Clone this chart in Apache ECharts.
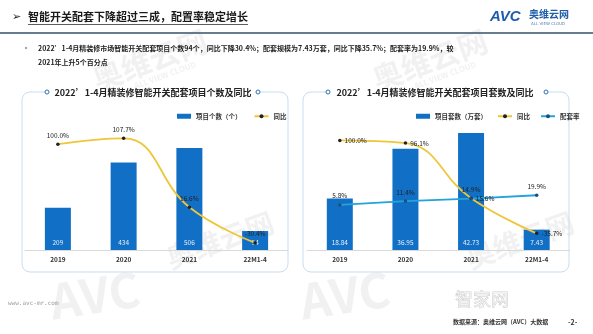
<!DOCTYPE html>
<html><head><meta charset="utf-8">
<script src="https://cdn.jsdelivr.net/npm/echarts@6/dist/echarts.min.js"></script>
<style>html,body{margin:0;padding:0;background:#fff}#c{width:593px;height:334px}</style>
</head><body><div id="c"></div>
<script>
const categories = ['2019', '2020', '2021', '22M1-4'];
const countVals = [209, 434, 506, 94];
const countYoY = [100.0, 107.7, 16.6, -30.4];
const setVals = [18.84, 36.95, 42.73, 7.43];
const setYoY = [100.0, 96.1, 15.6, -35.7];
const setRate = [5.8, 11.4, 14.9, 19.9];

const FONT = 'Noto Sans CJK SC';
const BAR = '#1170C6', YEL = '#EEC63A', CYAN = '#22A3DC';
const pct = p => p.value.toFixed(1) + '%';

function panel(x, w, gapL, gapR, title, cx) {
  return [
    {type:'rect', shape:{x:x, y:92, width:w, height:180, r:8}, style:{fill:'none', stroke:'#C9DDF0', lineWidth:1}},
    {type:'rect', shape:{x:gapL, y:88, width:gapR-gapL, height:8}, style:{fill:'#fff'}},
    {type:'circle', shape:{cx:gapL-2, cy:92, r:2}, style:{fill:'#fff', stroke:'#2E75B6', lineWidth:1}},
    {type:'circle', shape:{cx:gapR+2, cy:92, r:2}, style:{fill:'#fff', stroke:'#2E75B6', lineWidth:1}},
    {type:'text', x:cx, y:93, style:{text:title, font:'bold 9px "'+FONT+'"', fill:'#222', textAlign:'center', textVerticalAlign:'middle'}}
  ];
}
function wm(x, y, rot, text, size) {
  return {type:'text', x:x, y:y, rotation:rot, style:{text:text, font:'bold '+size+'px "'+FONT+'"', fill:'rgba(190,190,190,0.22)', textAlign:'center', textVerticalAlign:'middle'}};
}

const chart = echarts.init(document.getElementById('c'));
chart.setOption({
  backgroundColor:'#fff',
  animation:false,
  textStyle:{fontFamily:FONT},
  graphic:{elements:[
    wm(150, 60, 0.35, '奥维云网', 30), wm(165, 75, 0.35, 'ALL VIEW CLOUD', 8),
    wm(430, 60, 0.35, '奥维云网', 30), wm(445, 75, 0.35, 'ALL VIEW CLOUD', 8),
    wm(95, 295, 0.15, 'AVC', 48), wm(345, 295, 0.15, 'AVC', 48),
    wm(220, 240, 0.35, '奥维云网', 28), wm(520, 240, 0.35, '奥维云网', 28),
    {type:'text', x:12, y:17, style:{text:'➢', font:'11px "DejaVu Sans"', fill:'#222', textVerticalAlign:'middle'}},
    {type:'text', x:28, y:17, style:{text:'智能开关配套下降超过三成，配置率稳定增长', font:'bold 11px "'+FONT+'"', fill:'#1a1a1a', textVerticalAlign:'middle'}},
    {type:'line', shape:{x1:28, y1:24.5, x2:248, y2:24.5}, style:{stroke:'#333', lineWidth:0.8}},
    {type:'line', shape:{x1:0, y1:33, x2:593, y2:33}, style:{stroke:'#34506E', lineWidth:1.5}},
    {type:'text', x:490, y:17, style:{text:'AVC', font:'italic bold 15px "Liberation Sans"', fill:'#1E5EA8', textVerticalAlign:'middle'}},
    {type:'text', x:529, y:14, style:{text:'奥维云网', font:'bold 10px "'+FONT+'"', fill:'#1E5EA8', textVerticalAlign:'middle'}},
    {type:'text', x:531, y:24, style:{text:'ALL VIEW CLOUD', font:'4px "DejaVu Sans"', fill:'#5A7FB0', textVerticalAlign:'middle'}},
    {type:'circle', shape:{cx:26, cy:48, r:1.2}, style:{fill:'#9AA8B8'}},
    {type:'text', x:38, y:48, style:{text:'2022’1-4月精装修市场智能开关配套项目个数94个，同比下降30.4%；配套规模为7.43万套，同比下降35.7%；配套率为19.9%，较', font:'bold 7px "'+FONT+'"', fill:'#222', textVerticalAlign:'middle'}},
    {type:'text', x:38, y:62, style:{text:'2021年上升5个百分点', font:'bold 7px "'+FONT+'"', fill:'#222', textVerticalAlign:'middle'}},
    ...panel(22, 266, 49, 256, '2022’1-4月精装修智能开关配套项目个数及同比', 153),
    ...panel(303, 266, 330, 544, '2022’1-4月精装修智能开关配套项目套数及同比', 435),
    {type:'text', x:8, y:303, style:{text:'www.avc-mr.com', font:'6px "DejaVu Sans Mono"', fill:'#999', textVerticalAlign:'middle'}},
    {type:'text', x:455, y:299, style:{text:'智家网', font:'18px "'+FONT+'"', fill:'rgba(0,0,0,0)', stroke:'#D0D0D0', lineWidth:0.6, textVerticalAlign:'middle'}},
    {type:'text', x:453, y:322, style:{text:'数据来源：奥维云网（AVC）大数据', font:'bold 6px "'+FONT+'"', fill:'#333', textVerticalAlign:'middle'}},
    {type:'text', x:568, y:322, style:{text:'-2-', font:'bold 7px "'+FONT+'"', fill:'#333', textVerticalAlign:'middle'}}
  ]},
  legend:[
    {left:172, top:108, itemWidth:14, itemHeight:5, itemGap:12,
     textStyle:{fontSize:6.5, fontWeight:'bold', color:'#333', fontFamily:FONT},
     data:[{name:'项目个数（个）', icon:'rect'}, {name:'同比'}]},
    {left:411, top:108, itemWidth:14, itemHeight:5, itemGap:10,
     textStyle:{fontSize:6.5, fontWeight:'bold', color:'#333', fontFamily:FONT},
     data:[{name:'项目套数（万套）', icon:'rect'}, {name:'同比'}, {name:'配套率'}]}
  ],
  grid:[
    {left:25, right:305, top:129, bottom:84},
    {left:307, right:23.5, top:113, bottom:84}
  ],
  xAxis:[0,1].map(i => ({type:'category', gridIndex:i, data:categories,
    axisLine:{lineStyle:{color:'#D9D9D9'}}, axisTick:{show:false},
    axisLabel:{fontSize:6.5, fontWeight:'bold', color:'#333', margin:6}})),
  yAxis:[
    {type:'value', gridIndex:0, min:0, max:600, show:false, splitLine:{show:false}},
    {type:'value', gridIndex:0, min:-40, max:120, show:false, splitLine:{show:false}},
    {type:'value', gridIndex:1, min:0, max:50, show:false, splitLine:{show:false}},
    {type:'value', gridIndex:1, min:-60, max:140, show:false, splitLine:{show:false}}
  ],
  series:[
    {name:'项目个数（个）', type:'bar', xAxisIndex:0, yAxisIndex:0, data:countVals, barWidth:26,
     itemStyle:{color:BAR}, label:{show:true, position:'insideBottom', distance:4, color:'#E8EEF6', fontSize:6.5}},
    {name:'同比', type:'line', xAxisIndex:0, yAxisIndex:1, data:countYoY, smooth:0.45,
     symbol:'circle', symbolSize:3.5, lineStyle:{color:YEL, width:1.8}, itemStyle:{color:'#222'},
     label:{show:true, position:'top', distance:4, fontSize:6.5, color:'#222', formatter:pct}},
    {name:'项目套数（万套）', type:'bar', xAxisIndex:1, yAxisIndex:2, data:setVals, barWidth:26,
     itemStyle:{color:BAR}, label:{show:true, position:'insideBottom', distance:4, color:'#E8EEF6', fontSize:6.5}},
    {name:'同比', type:'line', xAxisIndex:1, yAxisIndex:3, data:setYoY, smooth:0.45,
     symbol:'circle', symbolSize:3.5, lineStyle:{color:YEL, width:1.8}, itemStyle:{color:'#222'},
     label:{show:true, position:'right', distance:3, fontSize:6.5, color:'#222', formatter:pct}},
    {name:'配套率', type:'line', xAxisIndex:1, yAxisIndex:3, data:setRate,
     symbol:'circle', symbolSize:3.5, lineStyle:{color:CYAN, width:1.8}, itemStyle:{color:'#1F4E79'},
     label:{show:true, position:'top', distance:4, fontSize:6.5, color:'#222', formatter:pct}}
  ]
});
</script></body></html>
